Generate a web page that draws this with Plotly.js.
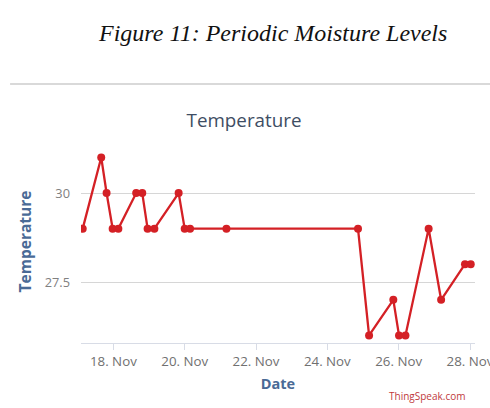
<!DOCTYPE html>
<html>
<head>
<meta charset="utf-8">
<script src="https://cdn.plot.ly/plotly-3.0.1.min.js"></script>
<style>html,body{margin:0;padding:0;background:#fff;}#chart{width:490px;height:408px;}</style>
</head>
<body>
<div id="chart"></div>
<script>
const times = [
  "2017-11-17 03:22", "2017-11-17 15:50", "2017-11-17 19:26", "2017-11-17 23:31",
  "2017-11-18 03:22", "2017-11-18 15:22", "2017-11-18 19:26", "2017-11-18 23:02",
  "2017-11-19 03:36", "2017-11-19 19:55", "2017-11-20 00:00", "2017-11-20 03:36",
  "2017-11-21 04:05", "2017-11-24 20:38", "2017-11-25 04:05", "2017-11-25 20:24",
  "2017-11-26 00:14", "2017-11-26 04:34", "2017-11-26 20:10", "2017-11-27 04:34",
  "2017-11-27 20:38", "2017-11-28 00:29"
];
const temperature = [29, 31, 30, 29, 29, 30, 30, 29, 29, 30, 29, 29, 29, 29, 26, 27, 26, 26, 29, 27, 28, 28];
const yTicks = [27.5, 30];
const yTickLabels = ["27.5", "30"];
const captionText = "Figure 11: Periodic Moisture Levels";
const chartTitle = "Temperature";
const xTitle = "Date";
const yTitle = "Temperature";
const creditText = "ThingSpeak.com";

const trace = {
  x: times, y: temperature, type: "scatter", mode: "lines+markers",
  line: {color: "#d42025", width: 2.3},
  marker: {color: "#d42025", size: 8},
  hoverinfo: "skip"
};

const layout = {
  width: 490, height: 408,
  margin: {l: 81, r: 15, t: 140, b: 65},
  paper_bgcolor: "#ffffff", plot_bgcolor: "#ffffff",
  showlegend: false,
  font: {family: "Open Sans, DejaVu Sans, sans-serif", color: "#666"},
  title: {text: chartTitle, x: 0.498, xref: "container", xanchor: "center", y: 0.706, yref: "container", yanchor: "middle",
          font: {size: 18.8, color: "#3e4d63", family: "Open Sans, DejaVu Sans, sans-serif"}},
  xaxis: {
    type: "date",
    range: ["2017-11-17 02:13", "2017-11-28 03:22"],
    tick0: "2017-11-18", dtick: 2 * 86400000,
    tickformat: "%d. %b",
    ticklabeloverflow: "allow",
    showgrid: false, zeroline: false,
    showline: true, linecolor: "#d8dce6", linewidth: 1,
    ticks: "outside", ticklen: 6, tickcolor: "#d8dce6",
    tickfont: {size: 13.3, color: "#707070"},
    title: {text: xTitle, standoff: 9, font: {size: 14.5, color: "#4a6a96", family: "Open Sans, DejaVu Sans, sans-serif", weight: "bold"}}
  },
  yaxis: {
    range: [25.787, 31.49],
    tickvals: yTicks, ticktext: yTickLabels,
    showgrid: true, gridcolor: "#d6d6d6", gridwidth: 1,
    zeroline: false, showline: false, ticks: "",
    tickfont: {size: 12.8, color: "#808080"},
    ticklabelstandoff: 10,
    title: {text: yTitle, standoff: 9, font: {size: 15.5, color: "#4a6a96", family: "Open Sans, DejaVu Sans, sans-serif", weight: "bold"}}
  },
  shapes: [
    {type: "line", xref: "paper", yref: "paper", x0: -0.18, x1: 1.04, y0: 1.276, y1: 1.276,
     line: {color: "#d9d9d9", width: 2}}
  ],
  annotations: [
    {text: "<i>" + captionText + "</i>", xref: "paper", yref: "paper", x: 0.486, y: 1.525,
     xanchor: "center", yanchor: "middle", showarrow: false,
     font: {family: "Liberation Serif, Times New Roman, serif", size: 24, color: "#111"}},
    {text: creditText, xref: "paper", yref: "paper", x: 0.98, y: -0.26,
     xanchor: "right", yanchor: "middle", showarrow: false,
     font: {size: 10, color: "#c0393b"}}
  ]
};

Plotly.newPlot("chart", [trace], layout, {staticPlot: true, displayModeBar: false});
</script>
</body>
</html>
